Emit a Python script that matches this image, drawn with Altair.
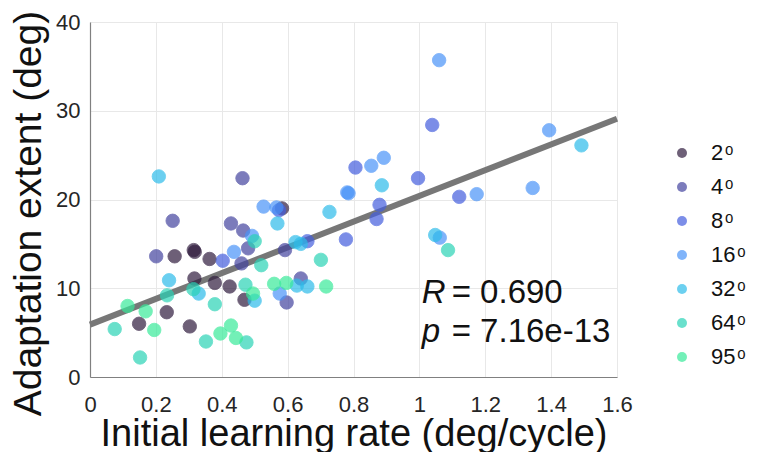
import altair as alt
import pandas as pd

# ---- data ----
sizes = ["2", "4", "8", "16", "32", "64", "95"]
colors = ["#301c3e", "#44449f", "#445ede", "#4a94f8", "#2dbcea", "#2ad3b6", "#38ea9a"]

rate_2 = [0.583, 0.315, 0.318, 0.257, 0.363, 0.317, 0.379, 0.424, 0.469, 0.233, 0.149, 0.303]
ext_2 = [19.0, 14.3, 14.1, 13.6, 13.3, 11.1, 10.6, 10.2, 8.7, 7.3, 6.0, 5.7]

rate_4 = [0.463, 0.251, 0.428, 0.465, 0.480, 0.460, 0.201, 0.592, 0.640, 0.597]
ext_4 = [22.4, 17.6, 17.3, 16.5, 14.5, 12.8, 13.6, 14.3, 11.1, 8.4]

rate_8 = [0.806, 0.574, 0.403, 0.660, 1.039, 0.996, 0.879, 0.870, 1.121, 0.777]
ext_8 = [23.6, 18.8, 13.1, 15.3, 28.4, 22.4, 19.4, 17.8, 20.3, 15.5]

rate_16 = [0.854, 0.892, 0.527, 0.566, 0.781, 0.785, 0.492, 0.437, 0.576, 1.060, 1.394, 1.174, 1.344, 1.062]
ext_16 = [23.8, 24.7, 19.2, 19.1, 20.8, 20.7, 15.9, 14.1, 9.4, 35.7, 27.8, 20.6, 21.3, 15.7]

rate_32 = [0.209, 0.727, 0.569, 0.624, 0.640, 0.240, 0.628, 0.660, 0.500, 0.330, 0.886, 1.492, 1.048]
ext_32 = [22.6, 18.6, 17.3, 15.2, 15.0, 10.9, 10.3, 10.2, 8.6, 9.4, 21.6, 26.1, 16.0]

rate_64 = [0.500, 0.520, 0.701, 0.472, 0.314, 0.234, 0.379, 0.075, 0.475, 0.352, 0.152, 1.087]
ext_64 = [15.3, 12.6, 13.2, 10.4, 9.9, 9.2, 8.2, 5.4, 3.9, 4.0, 2.2, 14.3]

rate_95 = [0.559, 0.596, 0.717, 0.495, 0.114, 0.169, 0.195, 0.428, 0.396, 0.443]
ext_95 = [10.5, 10.6, 10.2, 9.4, 8.0, 7.4, 5.3, 5.8, 4.9, 4.4]

fit_x = [0.0, 1.6]
fit_y = [5.9, 29.1]

annot_x = [1.007, 1.007]
annot_y = [8.38, 3.98]
annot_sym = ["R", "p"]
annot_rest = ["= 0.690", "= 7.16e-13"]

x_ticks = [0, 0.2, 0.4, 0.6, 0.8, 1.0, 1.2, 1.4, 1.6]
y_ticks = [0, 10, 20, 30, 40]

# ---- tables ----
groups = [
    ("2", rate_2, ext_2), ("4", rate_4, ext_4), ("8", rate_8, ext_8),
    ("16", rate_16, ext_16), ("32", rate_32, ext_32), ("64", rate_64, ext_64),
    ("95", rate_95, ext_95),
]
rows = []
for g, xs, ys in groups:
    for a, b in zip(xs, ys):
        rows.append({"size": g, "rate": a, "extent": b})
pts = pd.DataFrame(rows)
fit = pd.DataFrame({"rate": fit_x, "extent": fit_y})
ann = pd.DataFrame({"rate": annot_x, "extent": annot_y, "sym": annot_sym, "rest": annot_rest})

FONT = "Liberation Sans"

xscale = alt.Scale(domain=[0, 1.6], nice=False, zero=False)
yscale = alt.Scale(domain=[0, 40], nice=False, zero=False)

xaxis = alt.Axis(values=x_ticks, format="~g", title="Initial learning rate (deg/cycle)",
                 ticks=False, tickSize=0, labelPadding=17, titlePadding=0,
                 labelFlush=False, titleFontSize=38)
yaxis = alt.Axis(values=y_ticks, title="Adaptation extent (deg)",
                 ticks=False, tickSize=0, labelPadding=10, titlePadding=7,
                 labelFlush=False, titleFontSize=39, titleY=191)

line = alt.Chart(fit).mark_line(color="#777777", strokeWidth=6, strokeCap="butt").encode(
    x=alt.X("rate:Q", scale=xscale, axis=xaxis),
    y=alt.Y("extent:Q", scale=yscale, axis=yaxis),
)

points = alt.Chart(pts).mark_circle(size=180, opacity=0.7, strokeWidth=1, strokeOpacity=0.9).encode(
    x=alt.X("rate:Q", scale=xscale),
    y=alt.Y("extent:Q", scale=yscale),
    color=alt.Color("size:N", scale=alt.Scale(domain=sizes, range=colors),
                    legend=alt.Legend(title=None, orient="none", legendX=581, legendY=120,
                                      symbolType="circle", symbolSize=100, symbolOpacity=0.7,
                                      symbolStrokeWidth=0,
                                      labelFontSize=22, labelFont=FONT, labelColor="#111111",
                                      labelExpr="datum.label + '\u200aᵒ'", labelOffset=18,
                                      labelLimit=80, rowPadding=12)),
    stroke=alt.Stroke("size:N", scale=alt.Scale(domain=sizes, range=colors), legend=None),
)

sym = alt.Chart(ann).mark_text(align="left", baseline="alphabetic", fontSize=33,
                               fontStyle="italic", font=FONT, color="#111111").encode(
    x=alt.X("rate:Q", scale=xscale), y=alt.Y("extent:Q", scale=yscale), text="sym:N")
rest = alt.Chart(ann).mark_text(align="left", baseline="alphabetic", fontSize=33, dx=30,
                                font=FONT, color="#111111").encode(
    x=alt.X("rate:Q", scale=xscale), y=alt.Y("extent:Q", scale=yscale), text="rest:N")

chart = alt.layer(line, points, sym, rest).properties(
    width=527, height=355,
    autosize=alt.AutoSizeParams(type="none"),
    padding={"left": 82, "top": 14, "right": 132, "bottom": 75},
).configure(font=FONT).configure_view(strokeWidth=0).configure_axis(
    gridColor="#e8e8e8", gridWidth=1, domainColor="#808080", domainWidth=1.2,
    labelFontSize=22, labelColor="#262626", labelFont=FONT,
    titleFontWeight="normal", titleColor="#111111", titleFont=FONT,
)

chart.save("out.html", embed_options={"renderer": "svg", "actions": False})
